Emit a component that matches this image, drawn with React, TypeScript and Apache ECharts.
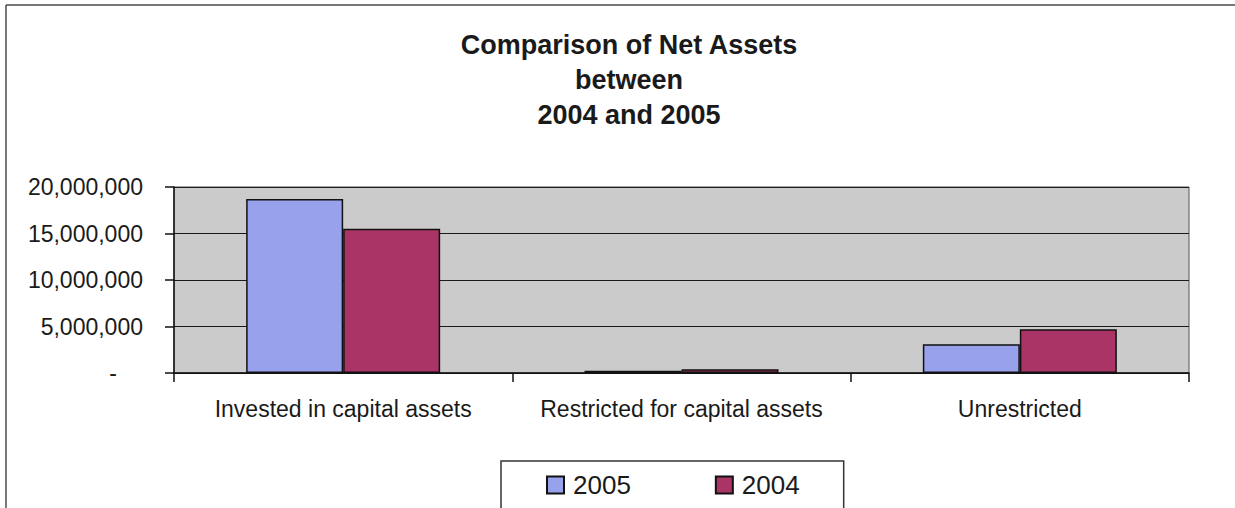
import React, { useEffect, useRef } from "react";
import * as echarts from "echarts";

const categories = ["Invested in capital assets", "Restricted for capital assets", "Unrestricted"];
const values2005 = [18700000, 250000, 3100000];
const values2004 = [15500000, 400000, 4700000];
const yTicks = { min: 0, max: 20000000, interval: 5000000 };
const titleLines = ["Comparison of Net Assets", "between", "2004 and 2005"];
const seriesNames = ["2005", "2004"];

export default function App() {
  const ref = useRef<HTMLDivElement>(null);
  useEffect(() => {
    document.body.style.margin = "0";
    document.body.style.overflow = "hidden";
    document.documentElement.style.overflow = "hidden";
    const chart = echarts.init(ref.current!, null, { renderer: "svg" });
    const font = "Arial, 'Liberation Sans', sans-serif";
    chart.setOption({
      animation: false,
      backgroundColor: "#ffffff",
      title: {
        text: titleLines.join("\n"),
        left: 624,
        textAlign: "center",
        top: 22,
        textStyle: { fontFamily: font, fontSize: 27, fontWeight: "bold", lineHeight: 35, color: "#1a1a1a" },
      },
      graphic: [
        {
          type: "line",
          shape: { x1: 6, y1: 5, x2: 1235, y2: 5 },
          style: { stroke: "#4a4a4a", lineWidth: 1.5 },
          silent: true,
        },
        {
          type: "line",
          shape: { x1: 6, y1: 5, x2: 6, y2: 508 },
          style: { stroke: "#4a4a4a", lineWidth: 1.5 },
          silent: true,
        },
      ],
      legend: {
        left: 501,
        top: 461,
        data: seriesNames,
        icon: "rect",
        itemWidth: 17,
        itemHeight: 17,
        itemGap: 84,
        padding: [9, 44, 30, 45],
        backgroundColor: "#ffffff",
        borderColor: "#333333",
        borderWidth: 1.5,
        textStyle: { fontFamily: font, fontSize: 26, lineHeight: 30, color: "#1a1a1a", padding: [0, 0, 0, 4] },
      },
      grid: {
        left: 174,
        right: 46,
        top: 187,
        bottom: 135,
        show: true,
        backgroundColor: "#cbcbcb",
        borderColor: "#555555",
        borderWidth: 1,
      },
      xAxis: {
        type: "category",
        data: categories,
        axisLine: { lineStyle: { color: "#111111", width: 1.5 } },
        axisTick: { show: true, length: 9, lineStyle: { color: "#111111", width: 1.5 } },
        axisLabel: { fontFamily: font, fontSize: 23, color: "#1a1a1a", margin: 24, interval: 0, hideOverlap: false },
      },
      yAxis: {
        type: "value",
        min: yTicks.min,
        max: yTicks.max,
        interval: yTicks.interval,
        axisLine: { show: true, lineStyle: { color: "#111111", width: 1.5 } },
        axisTick: { show: true, length: 9, lineStyle: { color: "#111111", width: 1.5 } },
        splitLine: { show: true, lineStyle: { color: "#1a1a1a", width: 1 } },
        axisLabel: {
          fontFamily: font,
          fontSize: 23,
          color: "#1a1a1a",
          margin: 31,
          formatter: (v: number) => (v === 0 ? "{d|-}" : v.toLocaleString("en-US")),
          rich: { d: { fontFamily: font, fontSize: 23, color: "#1a1a1a", padding: [0, 26, 0, 0] } },
        },
      },
      series: [
        {
          name: seriesNames[0],
          type: "bar",
          data: values2005,
          barWidth: 97,
          barGap: "0%",
          itemStyle: { color: "#98a2ec", borderColor: "#111111", borderWidth: 1.5 },
        },
        {
          name: seriesNames[1],
          type: "bar",
          data: values2004,
          barWidth: 97,
          barGap: "0%",
          itemStyle: { color: "#aa3465", borderColor: "#111111", borderWidth: 1.5 },
        },
      ],
    });
    return () => chart.dispose();
  }, []);
  return <div ref={ref} style={{ width: 1235, height: 508 }} />;
}
